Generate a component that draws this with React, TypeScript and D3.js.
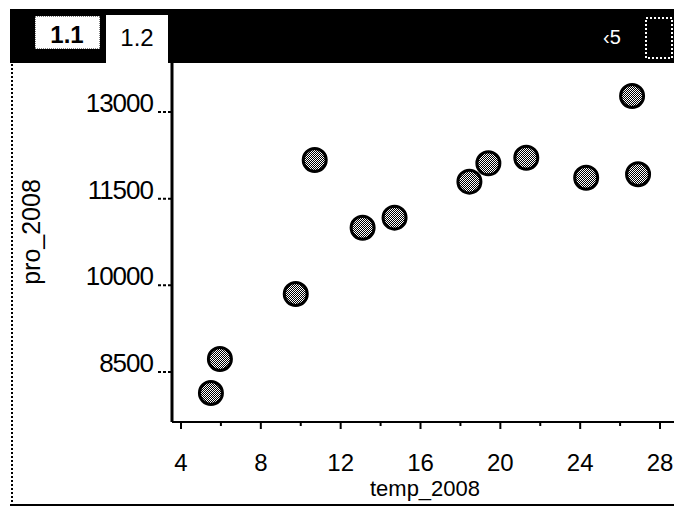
import React, { useRef, useEffect } from 'react';
import * as d3 from 'd3';

// temp_2008 vs pro_2008
const temp2008 = [5.5, 5.95, 9.75, 10.7, 13.1, 14.7, 18.45, 19.4, 21.3, 24.3, 26.6, 26.9];
const pro2008 = [8137, 8725, 9850, 12169, 10997, 11171, 11794, 12112, 12209, 11863, 13277, 11922];

const xTicks = [4, 8, 12, 16, 20, 24, 28];
const xMinorTicks = [6, 10, 14, 18, 22, 26];
const yTicks = [8500, 10000, 11500, 13000];

const W = 674;
const H = 511;

const App = () => {
  const ref = useRef<SVGSVGElement | null>(null);

  useEffect(() => {
    if (!ref.current) return;
    const svg = d3.select(ref.current);
    svg.selectAll('*').remove();

    const plot = { left: 172, right: 674, top: 63, bottom: 422 };

    const x = d3.scaleLinear().domain([3.55, 28.7]).range([plot.left, plot.right]);
    const y = d3.scaleLinear().domain([8500, 13000]).range([372, 112]);

    const font = '"Liberation Sans", Arial, sans-serif';

    // gray dither pattern for the dots
    const defs = svg.append('defs');
    const pat = defs.append('pattern')
      .attr('id', 'dither')
      .attr('width', 2)
      .attr('height', 2)
      .attr('patternUnits', 'userSpaceOnUse');
    pat.append('rect').attr('width', 2).attr('height', 2).attr('fill', '#000');
    pat.append('rect').attr('x', 0).attr('y', 0).attr('width', 1).attr('height', 1).attr('fill', '#fff');
    pat.append('rect').attr('x', 1).attr('y', 1).attr('width', 1).attr('height', 1).attr('fill', '#fff');

    svg.append('rect').attr('width', W).attr('height', H).attr('fill', '#fff');

    // title bar
    svg.append('rect').attr('x', 10).attr('y', 9).attr('width', W - 10).attr('height', 54).attr('fill', '#000');
    svg.append('rect').attr('x', 35).attr('y', 16).attr('width', 65).attr('height', 33)
      .attr('fill', '#fff').attr('stroke', '#000').attr('stroke-dasharray', '1,1');
    svg.append('text').attr('x', 67).attr('y', 43).attr('text-anchor', 'middle')
      .attr('font-family', font).attr('font-weight', 'bold').attr('font-size', 24).attr('fill', '#000')
      .text('1.1');
    svg.append('rect').attr('x', 106).attr('y', 15).attr('width', 62).attr('height', 50).attr('fill', '#fff');
    svg.append('text').attr('x', 137).attr('y', 46).attr('text-anchor', 'middle')
      .attr('font-family', font).attr('font-size', 24).attr('fill', '#000')
      .text('1.2');
    svg.append('text').attr('x', 612).attr('y', 44).attr('text-anchor', 'middle')
      .attr('font-family', font).attr('font-size', 20).attr('fill', '#fff')
      .text('‹5');
    svg.append('rect').attr('x', 646).attr('y', 18).attr('width', 26).attr('height', 40)
      .attr('fill', 'none').attr('stroke', '#fff').attr('stroke-width', 2).attr('stroke-dasharray', '2,2');

    // outer frame
    svg.append('line').attr('x1', 12).attr('x2', 12).attr('y1', 64).attr('y2', 505)
      .attr('stroke', '#000').attr('stroke-width', 2).attr('stroke-dasharray', '2,2');
    svg.append('line').attr('x1', 10).attr('x2', W).attr('y1', 505).attr('y2', 505)
      .attr('stroke', '#000').attr('stroke-width', 2);

    // axes
    svg.append('line').attr('x1', plot.left).attr('x2', plot.left).attr('y1', plot.top).attr('y2', plot.bottom)
      .attr('stroke', '#000').attr('stroke-width', 3);
    svg.append('line').attr('x1', plot.left).attr('x2', plot.right).attr('y1', plot.bottom).attr('y2', plot.bottom)
      .attr('stroke', '#000').attr('stroke-width', 2);

    svg.append('g').selectAll('line.xt')
      .data(xTicks)
      .join('line')
      .attr('x1', d => x(d)).attr('x2', d => x(d))
      .attr('y1', plot.bottom).attr('y2', plot.bottom + 7)
      .attr('stroke', '#000').attr('stroke-width', 2);
    svg.append('g').selectAll('line.xm')
      .data(xMinorTicks)
      .join('line')
      .attr('x1', d => x(d)).attr('x2', d => x(d))
      .attr('y1', plot.bottom).attr('y2', plot.bottom + 4)
      .attr('stroke', '#000').attr('stroke-width', 2);
    svg.append('g').selectAll('text')
      .data(xTicks)
      .join('text')
      .attr('x', d => x(d))
      .attr('y', 471)
      .attr('text-anchor', 'middle')
      .attr('font-family', font)
      .attr('font-size', 24)
      .attr('fill', '#000')
      .text(d => d);

    svg.append('g').selectAll('line')
      .data(yTicks)
      .join('line')
      .attr('x1', plot.left - 14).attr('x2', plot.left)
      .attr('y1', d => y(d)).attr('y2', d => y(d))
      .attr('stroke', '#000').attr('stroke-width', 2).attr('stroke-dasharray', '3,2');
    svg.append('g').selectAll('text')
      .data(yTicks)
      .join('text')
      .attr('x', 153)
      .attr('y', d => y(d))
      .attr('text-anchor', 'end')
      .attr('font-family', font)
      .attr('font-size', 26)
      .attr('letter-spacing', -1)
      .attr('fill', '#000')
      .text(d => d);

    // axis titles
    svg.append('text')
      .attr('x', 425).attr('y', 496)
      .attr('text-anchor', 'middle')
      .attr('font-family', font)
      .attr('font-size', 22)
      .attr('fill', '#000')
      .text('temp_2008');
    svg.append('text')
      .attr('transform', 'translate(40,232) rotate(-90)')
      .attr('text-anchor', 'middle')
      .attr('font-family', font)
      .attr('font-size', 25)
      .attr('fill', '#000')
      .text('pro_2008');

    // points
    svg.append('g').selectAll('circle')
      .data(temp2008.map((t, i) => ({ t, p: pro2008[i] })))
      .join('circle')
      .attr('cx', d => x(d.t))
      .attr('cy', d => y(d.p))
      .attr('r', 11.5)
      .attr('fill', 'url(#dither)')
      .attr('stroke', '#000')
      .attr('stroke-width', 3);
  }, []);

  return (
    <svg ref={ref} width={W} height={H} style={{ position: 'absolute', left: 0, top: 0 }} />
  );
};

export default App;
